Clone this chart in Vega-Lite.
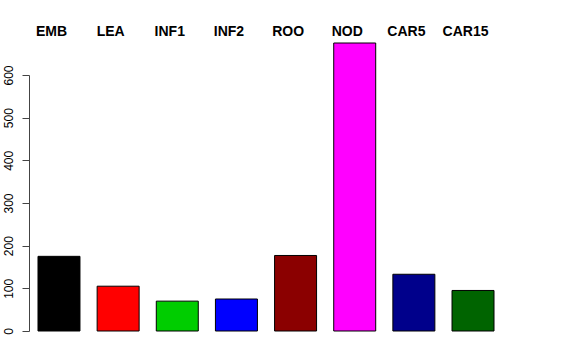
{
  "$schema": "https://vega.github.io/schema/vega-lite/v6.json",
  "autosize": {"type": "none"},
  "padding": {"left": 29, "top": 75, "right": 73, "bottom": 29},
  "width": 474,
  "height": 256,
  "background": "white",
  "config": {"view": {"stroke": null}, "font": "Liberation Sans"},
  "data": {"values": [
    {"tissue": "EMB", "value": 175, "color": "#000000"},
    {"tissue": "LEA", "value": 105, "color": "#FF0000"},
    {"tissue": "INF1", "value": 70, "color": "#00CD00"},
    {"tissue": "INF2", "value": 75, "color": "#0000FF"},
    {"tissue": "ROO", "value": 177, "color": "#8B0000"},
    {"tissue": "NOD", "value": 675, "color": "#FF00FF"},
    {"tissue": "CAR5", "value": 133, "color": "#00008B"},
    {"tissue": "CAR15", "value": 95, "color": "#006400"}
  ]},
  "mark": {"type": "bar", "stroke": "#000000", "strokeWidth": 1, "clip": false},
  "encoding": {
    "x": {
      "field": "tissue", "type": "nominal", "sort": null,
      "scale": {"paddingInner": 0.29, "paddingOuter": 0.152},
      "axis": {
        "orient": "top", "title": null, "domain": false, "ticks": false, "tickSize": 0,
        "labelAngle": 0, "labelFont": "Liberation Sans", "labelFontSize": 14, "labelFontWeight": "bold",
        "labelColor": "#000000", "labelBaseline": "alphabetic", "labelAlign": "center",
        "labelPadding": 39.5, "labelOffset": -7.5
      }
    },
    "y": {
      "field": "value", "type": "quantitative",
      "scale": {"domain": [0, 600], "nice": false, "zero": true},
      "axis": {
        "title": null, "grid": false, "values": [0, 100, 200, 300, 400, 500, 600],
        "domainColor": "#444444", "tickColor": "#444444", "tickSize": 7,
        "labelAngle": 270, "labelAlign": "center", "labelBaseline": "alphabetic",
        "labelFont": "Liberation Sans", "labelFontSize": 12, "labelColor": "#000000",
        "labelPadding": 9.5, "labelFlush": false, "labelOverlap": false
      }
    },
    "fill": {"field": "color", "type": "nominal", "scale": null, "legend": null}
  }
}
